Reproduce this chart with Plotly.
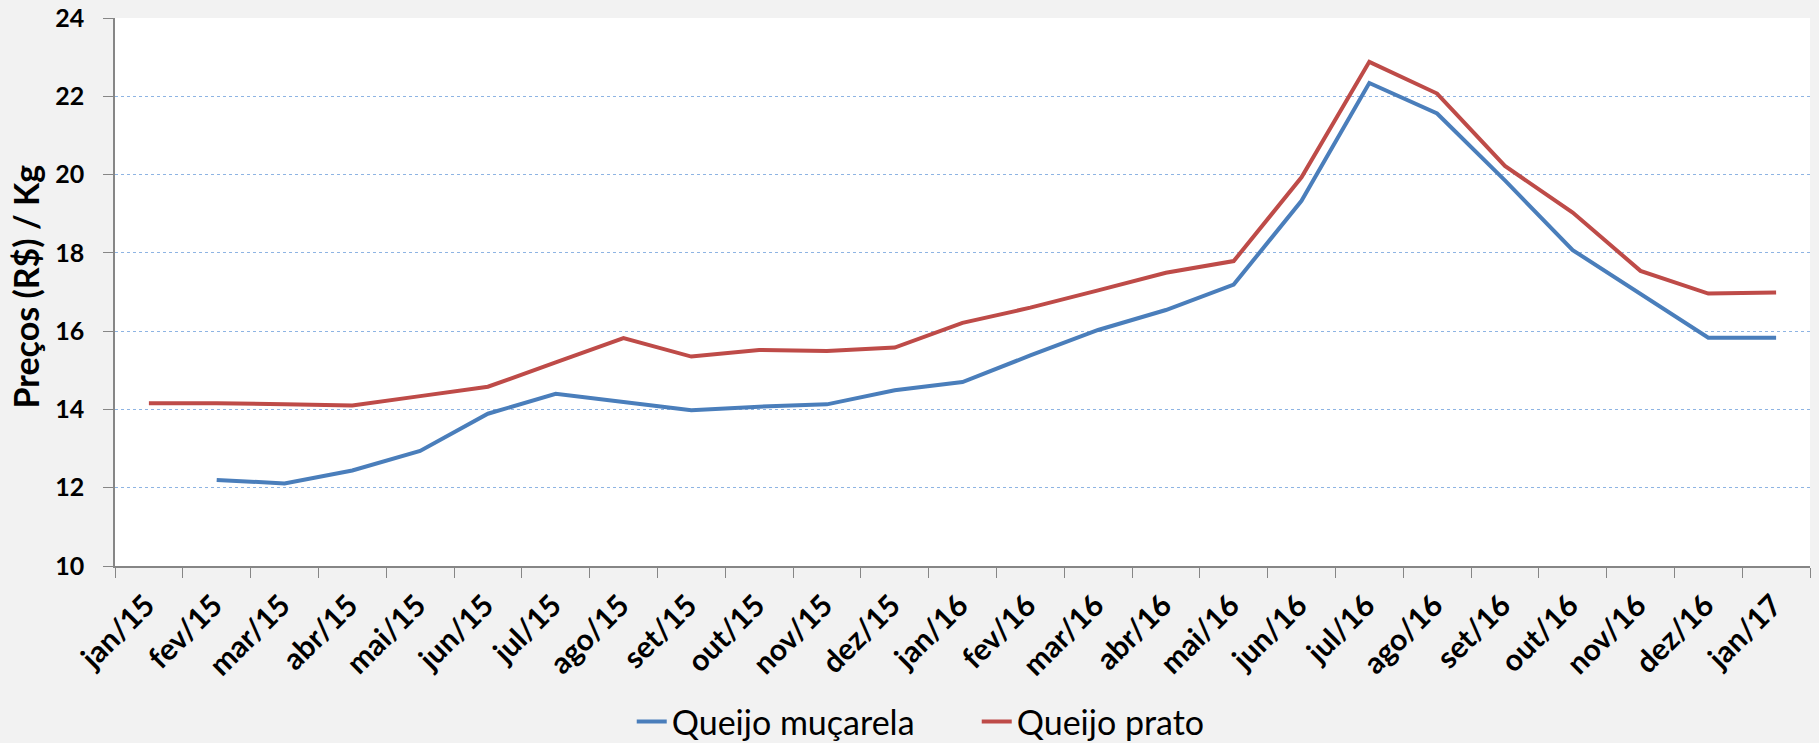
import plotly.graph_objects as go

months = ["jan/15", "fev/15", "mar/15", "abr/15", "mai/15", "jun/15", "jul/15", "ago/15",
          "set/15", "out/15", "nov/15", "dez/15", "jan/16", "fev/16", "mar/16", "abr/16",
          "mai/16", "jun/16", "jul/16", "ago/16", "set/16", "out/16", "nov/16", "dez/16", "jan/17"]

mucarela = [None, 12.20, 12.11, 12.44, 12.94, 13.89, 14.40, 14.19, 13.98, 14.07, 14.13, 14.49,
            14.70, 15.38, 16.03, 16.54, 17.19, 19.33, 22.34, 21.56, 19.85, 18.07, 16.96, 15.83, 15.83]

prato = [14.16, 14.16, 14.13, 14.10, 14.34, 14.58, 15.20, 15.82, 15.35, 15.52, 15.49, 15.58,
         16.21, 16.60, 17.04, 17.49, 17.79, 19.93, 22.88, 22.07, 20.22, 19.03, 17.54, 16.96, 16.99]

y_title = "Preços (R$) / Kg"
font_family = "Lato"

fig = go.Figure()
fig.add_trace(go.Scatter(x=months, y=mucarela, mode="lines", name="Queijo muçarela",
                         line=dict(color="#4a7ebb", width=4)))
fig.add_trace(go.Scatter(x=months, y=prato, mode="lines", name="Queijo prato",
                         line=dict(color="#be4b48", width=4)))

fig.update_layout(
    width=1819, height=743,
    paper_bgcolor="#f2f2f2", plot_bgcolor="#ffffff",
    margin=dict(l=115, r=9, t=18, b=177, autoexpand=False),
    font=dict(family=font_family, color="#000000"),
    showlegend=True,
    legend=dict(orientation="h", xref="container", yref="container",
                x=0.3473, xanchor="left", y=0.0283, yanchor="middle",
                font=dict(size=34, family=font_family), bgcolor="rgba(0,0,0,0)",
                entrywidth=300, tracegroupgap=0),
)
fig.add_annotation(text=y_title, xref="paper", yref="paper", x=-0.0528, y=0.509,
                   xanchor="center", yanchor="middle", textangle=-90, showarrow=False,
                   font=dict(size=34, family=font_family, weight="bold"))
fig.update_xaxes(
    type="category", range=[-0.5, len(months) - 0.5],
    tickangle=-45, tickson="boundaries", automargin=False,
    ticks="outside", ticklen=10, tickcolor="#868686", tickwidth=1,
    showline=True, linecolor="#868686", linewidth=1.5,
    showgrid=False, zeroline=False, ticklabelstandoff=8, ticklabelshift=-3,
    ticklabeloverflow="allow",
    tickfont=dict(size=30, family=font_family, weight="bold"),
)
fig.update_yaxes(
    range=[10, 24], dtick=2, tick0=10, automargin=False,
    ticks="outside", ticklen=10, tickcolor="#868686", tickwidth=1,
    showline=True, linecolor="#868686", linewidth=1.5,
    showgrid=True, gridcolor="#8eb4e3", griddash="dot", gridwidth=1,
    zeroline=False, ticklabelstandoff=14, ticklabeloverflow="allow",
    tickfont=dict(size=25, family=font_family, weight="bold"),
)

fig.write_html("out.html", config={"displayModeBar": False},
               post_script="document.body.style.margin='0px';")
